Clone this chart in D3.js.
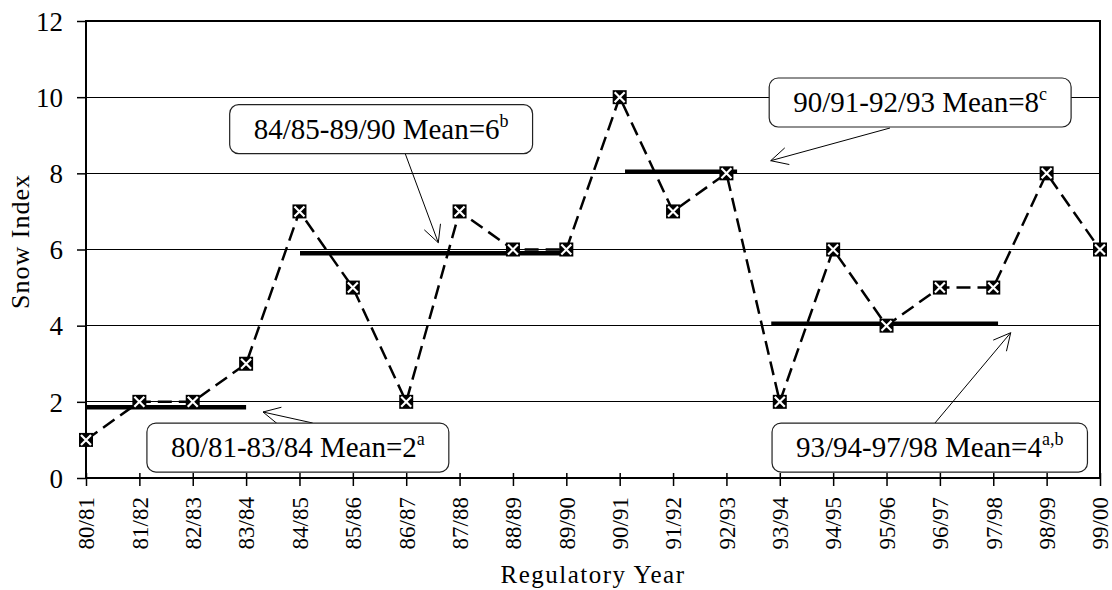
<!DOCTYPE html>
<html><head><meta charset="utf-8">
<script src="https://cdn.jsdelivr.net/npm/d3@7"></script>
<style>
body{margin:0;background:#fff}
svg text{font-family:"Liberation Serif","Times New Roman",Times,"DejaVu Serif",serif !important;}
</style>
</head><body><svg id="c" width="1112" height="590"></svg>
<script>
const categories = ["80/81","81/82","82/83","83/84","84/85","85/86","86/87","87/88","88/89","89/90","90/91","91/92","92/93","93/94","94/95","95/96","96/97","97/98","98/99","99/00"];
const snowIndex = [1,2,2,3,7,5,2,7,6,6,10,7,8,2,6,4,5,5,8,6];
const yTicks = [0,2,4,6,8,10,12];
// period means (drawn level) and their span, in category-index units
const periodStart = [0, 4.01, 10.1, 12.84];
const periodEnd = [3, 9.07, 12.2, 17.09];
const periodMean = [1.86, 5.9, 8.04, 4.05];
// annotation texts
const noteText = ["80/81-83/84 Mean=2","84/85-89/90 Mean=6","90/91-92/93 Mean=8","93/94-97/98 Mean=4"];
const noteSup = ["a","b","c","a,b"];
// annotation anchors in data units (category index, index value)
const noteCx = [3.97, 5.53, 15.63, 15.81];
const noteCy = [0.80, 9.16, 9.86, 0.80];
const arrowFromX = [4.248, 5.977, 15.065, 15.908];
const arrowFromY = [1.444, 8.534, 9.19, 1.444];
const arrowToX = [3.317, 6.601, 12.830, 17.327];
const arrowToY = [1.733, 6.179, 8.332, 3.815];

const W = 1112, H = 590;
const m = {l:86, r:12, t:21, b:112};
const svg = d3.select("#c");

const x = d3.scalePoint().domain(categories).range([m.l, W - m.r]).padding(0);
const xi = d3.scaleLinear().domain([0, categories.length - 1]).range([m.l, W - m.r]);
const y = d3.scaleLinear().domain([0, 12]).range([H - m.b, m.t]);

// gridlines
svg.append("g").selectAll("line").data(yTicks.filter(d => d > 0 && d < 12)).join("line")
  .attr("x1", m.l).attr("x2", W - m.r)
  .attr("y1", d => y(d)).attr("y2", d => y(d))
  .attr("stroke", "#000").attr("stroke-width", 1.2).attr("shape-rendering","crispEdges");

// y axis
const ya = svg.append("g").attr("transform", `translate(${m.l},0)`)
  .call(d3.axisLeft(y).tickValues(yTicks).tickSize(9).tickPadding(14).tickFormat(d3.format("d")));
ya.attr("font-family", null);
ya.select(".domain").remove();
ya.selectAll(".tick line").attr("stroke","#000").attr("stroke-width",1.5);
ya.selectAll(".tick text").attr("font-size", 27).attr("fill","#000")
  .attr("dy","0.34em");

// x axis
const xa = svg.append("g").attr("transform", `translate(0,${y(0)})`)
  .call(d3.axisBottom(x).tickSize(8).tickPadding(0));
xa.attr("font-family", null);
xa.select(".domain").remove();
xa.selectAll(".tick line").attr("y1", -5).attr("y2", 8).attr("stroke","#000").attr("stroke-width",1.5);
xa.selectAll(".tick text").attr("font-size", 23).attr("fill","#000")
  .attr("transform","rotate(-90)").attr("text-anchor","end")
  .attr("x", -19).attr("y", 0).attr("dy","0.34em");

// frame
svg.append("rect").attr("x", m.l).attr("y", m.t)
  .attr("width", W - m.r - m.l).attr("height", y(0) - m.t)
  .attr("fill","none").attr("stroke","#000").attr("stroke-width",2);

// period mean bars
svg.append("g").selectAll("line").data(periodMean).join("line")
  .attr("x1", (d,i) => xi(periodStart[i])).attr("x2", (d,i) => xi(periodEnd[i]))
  .attr("y1", d => y(d)).attr("y2", d => y(d))
  .attr("stroke","#000").attr("stroke-width",4.5);

// dashed series line
svg.append("path").datum(snowIndex)
  .attr("d", d3.line().x((d,i) => x(categories[i])).y(d => y(d)))
  .attr("fill","none").attr("stroke","#000").attr("stroke-width",2.5)
  .attr("stroke-dasharray","14,7");

// markers
const mk = svg.append("g").selectAll("g").data(snowIndex).join("g")
  .attr("transform", (d,i) => `translate(${x(categories[i])},${y(d)})`);
mk.append("rect").attr("x",-7).attr("y",-7).attr("width",14).attr("height",14).attr("fill","#000");
mk.append("path").attr("d","M-5,-5L5,5M5,-5L-5,5")
  .attr("stroke","#fff").attr("stroke-width",2.2);

// annotations
noteText.forEach((t, i) => {
  const x1 = xi(arrowFromX[i]), y1 = y(arrowFromY[i]);
  const x2 = xi(arrowToX[i]), y2 = y(arrowToY[i]);
  const ang = Math.atan2(y1 - y2, x1 - x2);
  const L = 19, a = 27 * Math.PI / 180;
  const g = svg.append("g");
  g.append("path")
    .attr("d", `M${x1},${y1}L${x2},${y2}M${x2 + L*Math.cos(ang - a)},${y2 + L*Math.sin(ang - a)}L${x2},${y2}L${x2 + L*Math.cos(ang + a)},${y2 + L*Math.sin(ang + a)}`)
    .attr("fill","none").attr("stroke","#000").attr("stroke-width",1);

  const cx = xi(noteCx[i]), cy = y(noteCy[i]);
  const box = g.append("rect");
  const tx = g.append("text").attr("font-size", 29).attr("fill","#000")
    .attr("text-anchor","middle").attr("x", cx).attr("y", cy + 9.5);
  tx.append("tspan").text(t);
  tx.append("tspan").text(noteSup[i]).attr("font-size", 18).attr("dy", -12);
  const w = tx.node().getComputedTextLength() + 48;
  const h = 49;
  box.attr("x", cx - w/2).attr("y", cy - h/2).attr("width", w).attr("height", h)
    .attr("rx", 9).attr("fill","#fff").attr("stroke","#222").attr("stroke-width",1.2);
});

// axis titles
svg.append("text").attr("font-size", 25).attr("letter-spacing", 1.5)
  .attr("text-anchor","middle").attr("x", (m.l + W - m.r)/2).attr("y", 583).text("Regulatory Year");
svg.append("text").attr("font-size", 26).attr("letter-spacing", 1)
  .attr("text-anchor","middle").attr("transform", `translate(29,${(m.t + y(0))/2 - 8}) rotate(-90)`)
  .text("Snow Index");
</script></body></html>
